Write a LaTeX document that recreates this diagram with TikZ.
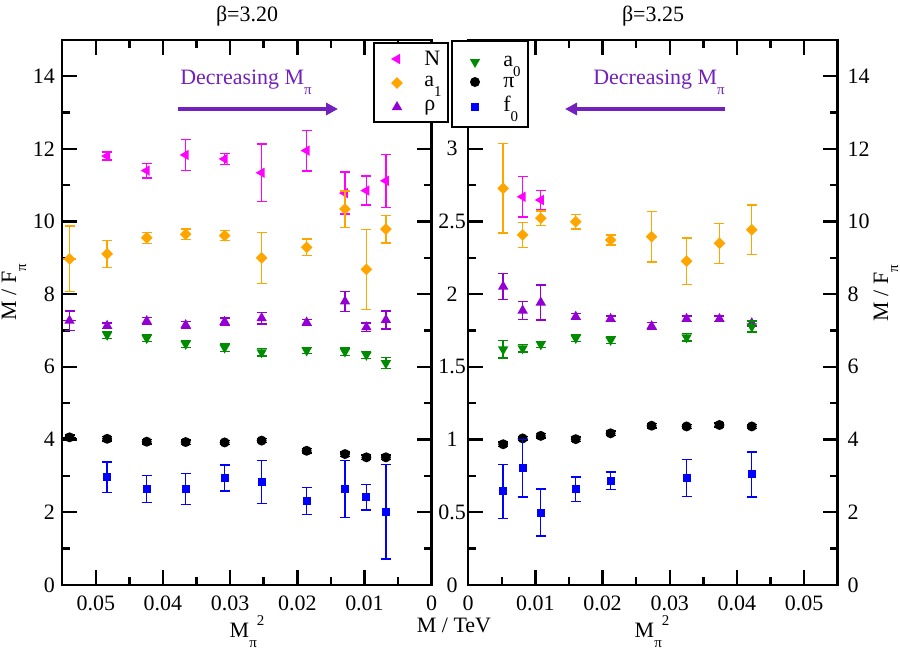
\documentclass[tikz,border=0pt]{standalone}
\usepackage{fontspec}
\setmainfont{Liberation Serif}
\usetikzlibrary{shapes.geometric, arrows.meta}

\definecolor{nuccol}{RGB}{255,0,255}
\definecolor{aonecol}{RGB}{255,165,0}
\definecolor{rhocol}{RGB}{148,0,211}
\definecolor{azerocol}{RGB}{0,139,0}
\definecolor{fzerocol}{RGB}{0,0,255}
\definecolor{deccol}{RGB}{114,33,188}

% grace style indices
\newcommand{\lowidx}[1]{\raisebox{-1ex}{\fontsize{8.5}{9}\selectfont #1}}
\newcommand{\highidx}[1]{\raisebox{1.1ex}{\fontsize{8.5}{9}\selectfont #1}}

% one data point: set, name, x, y, error
\newcommand{\datpt}[5]{%
  \draw[#1 bar] (#3,#4-#5) -- (#3,#4+#5);
  \draw[#1 bar] ([xshift=-0.1cm]#3,#4-#5) -- ([xshift=0.1cm]#3,#4-#5);
  \draw[#1 bar] ([xshift=-0.1cm]#3,#4+#5) -- ([xshift=0.1cm]#3,#4+#5);
  \node[#1 mark] (#2) at (#3,#4) {};}

\begin{document}
\begin{tikzpicture}[x=0.02cm,y=-0.02cm,
    font=\rmfamily\fontsize{12.5}{14}\selectfont,
    frame/.style={line width=1.4pt},
    tick/.style={line width=1.4pt},
    ticklab/.style={inner sep=0pt},
    axttl/.style={anchor=base,inner sep=0pt},
    basemark/.style={draw=none,inner sep=0pt},
    nuc mark/.style={basemark,regular polygon,regular polygon sides=3,shape border rotate=90,fill=nuccol,minimum size=0.24cm},
    aone mark/.style={basemark,diamond,fill=aonecol,minimum size=0.24cm},
    rho mark/.style={basemark,regular polygon,regular polygon sides=3,fill=rhocol,minimum size=0.24cm},
    azero mark/.style={basemark,regular polygon,regular polygon sides=3,shape border rotate=180,fill=azerocol,minimum size=0.24cm},
    pi mark/.style={basemark,circle,fill=black,minimum size=0.2cm},
    fzero mark/.style={basemark,rectangle,fill=fzerocol,minimum size=0.16cm},
    nuc bar/.style={draw=nuccol,line width=0.8pt},
    aone bar/.style={draw=aonecol,line width=0.8pt},
    rho bar/.style={draw=rhocol,line width=0.8pt},
    azero bar/.style={draw=azerocol,line width=0.8pt},
    pi bar/.style={draw=black,line width=0.8pt},
    fzero bar/.style={draw=fzerocol,line width=0.8pt},
    legbox/.style={draw,fill=white,line width=0.6pt},
    legtxt/.style={anchor=base west,inner sep=0pt},
    decarrow/.style={draw=deccol,line width=2.2pt,-{Triangle[length=0.24cm,width=0.24cm]}},
    dectext/.style={text=deccol,anchor=base west,inner sep=0pt}]
\useasboundingbox (0,0) rectangle (900,650);

% beta = 3.20, reversed axis
\begin{scope}[shift={(8.634cm,-11.7cm)},x=-134.4cm,y=0.727cm]
  \draw[frame] (0,0) rectangle (0.055,15);
  \foreach \k in {0,...,5} {
    \draw[tick] (\k/100,0) -- ++(0,0.3cm);
    \draw[tick] (\k/100,15) -- ++(0,-0.3cm);}
  \foreach \k in {1,3,...,9} {
    \draw[tick] (\k/200,0) -- ++(0,0.16cm);
    \draw[tick] (\k/200,15) -- ++(0,-0.16cm);}
  \foreach \v in {0,2,...,14} {
    \draw[tick] (0.055,\v) -- ++(0.3cm,0);
    \draw[tick] (0,\v) -- ++(-0.3cm,0);
    \node[ticklab,anchor=east] (lyt\v) at ([xshift=-0.14cm]0.055,\v) {\v};}
  \foreach \v in {1,3,...,13} {
    \draw[tick] (0.055,\v) -- ++(0.16cm,0);
    \draw[tick] (0,\v) -- ++(-0.16cm,0);}
  \foreach \k/\lab in {0/0,1/0.01,2/0.02,3/0.03,4/0.04,5/0.05}
    \node[ticklab,anchor=north] (lxt\k) at ([yshift=-0.22cm]\k/100,0) {\lab};

  \foreach \x/\y/\e [count=\i] in {0.0483/11.80/0.11,0.0424/11.40/0.2,0.0366/11.83/0.42,
      0.0308/11.72/0.15,0.0253/11.34/0.79,0.0186/11.95/0.56,0.0129/10.78/0.58,
      0.0097/10.85/0.4,0.0068/11.12/0.73}
    {\datpt{nuc}{lN\i}{\x}{\y}{\e}}
  \draw[aone bar] (0.0548,8.97) -- (0.0530,8.97);
  \foreach \x/\y/\e [count=\i] in {0.0539/8.97/0.9,0.0483/9.11/0.37,0.0424/9.55/0.15,
      0.0366/9.65/0.14,0.0308/9.61/0.14,0.0253/9.0/0.7,0.0186/9.29/0.23,
      0.0129/10.34/0.5,0.0097/8.68/1.1,0.0068/9.79/0.38}
    {\datpt{aone}{lA\i}{\x}{\y}{\e}}
  \draw[rho bar] (0.0548,7.27) -- (0.0530,7.27);
  \foreach \x/\y/\e [count=\i] in {0.0539/7.27/0.27,0.0483/7.13/0.08,0.0424/7.26/0.1,
      0.0366/7.15/0.1,0.0308/7.24/0.1,0.0253/7.34/0.16,0.0186/7.22/0.08,
      0.0129/7.80/0.27,0.0097/7.09/0.12,0.0068/7.29/0.25}
    {\datpt{rho}{lR\i}{\x}{\y}{\e}}
  \foreach \x/\y/\e [count=\i] in {0.0483/6.88/0.1,0.0424/6.79/0.1,0.0366/6.63/0.1,
      0.0308/6.53/0.1,0.0253/6.40/0.1,0.0186/6.45/0.08,0.0129/6.42/0.1,
      0.0097/6.33/0.1,0.0068/6.10/0.15}
    {\datpt{azero}{lZ\i}{\x}{\y}{\e}}
  \draw[pi bar] (0.0548,4.06) -- (0.0530,4.06);
  \foreach \x/\y [count=\i] in {0.0539/4.06,0.0483/4.02,0.0424/3.94,0.0366/3.93,
      0.0308/3.92,0.0253/3.97,0.0186/3.69,0.0129/3.60,0.0097/3.51,0.0068/3.51}
    {\datpt{pi}{lP\i}{\x}{\y}{0.06}}
  \foreach \x/\y/\e [count=\i] in {0.0483/2.96/0.42,0.0424/2.64/0.37,0.0366/2.64/0.42,
      0.0308/2.94/0.36,0.0253/2.83/0.59,0.0186/2.31/0.37,0.0129/2.64/0.78,
      0.0097/2.41/0.35,0.0068/2.01/1.3}
    {\datpt{fzero}{lF\i}{\x}{\y}{\e}}
\end{scope}

% beta = 3.25
\begin{scope}[shift={(9.366cm,-11.7cm)},x=134.4cm,y=0.727cm]
  \draw[frame] (0,0) rectangle (0.055,15);
  \foreach \k in {0,...,5} {
    \draw[tick] (\k/100,0) -- ++(0,0.3cm);
    \draw[tick] (\k/100,15) -- ++(0,-0.3cm);}
  \foreach \k in {1,3,...,9} {
    \draw[tick] (\k/200,0) -- ++(0,0.16cm);
    \draw[tick] (\k/200,15) -- ++(0,-0.16cm);}
  \foreach \v in {0,2,...,14} {
    \draw[tick] (0,\v) -- ++(0.3cm,0);
    \draw[tick] (0.055,\v) -- ++(-0.3cm,0);
    \node[ticklab,anchor=west] (ryt\v) at ([xshift=0.19cm]0.055,\v) {\v};}
  \foreach \v in {1,3,...,13} {
    \draw[tick] (0,\v) -- ++(0.16cm,0);
    \draw[tick] (0.055,\v) -- ++(-0.16cm,0);}
  \foreach \v/\lab in {0/0,2/0.5,4/1,6/1.5,8/2,10/2.5,12/3}
    \node[ticklab] (rgev\v) at ([xshift=-0.32cm]0,\v) {\lab};
  \foreach \k/\lab in {0/0,1/0.01,2/0.02,3/0.03,4/0.04,5/0.05}
    \node[ticklab,anchor=north] (rxt\k) at ([yshift=-0.22cm]\k/100,0) {\lab};

  \foreach \x/\y/\e [count=\i] in {0.0081/10.68/0.56,0.0108/10.59/0.26}
    {\datpt{nuc}{rN\i}{\x}{\y}{\e}}
  \foreach \x/\y/\e [count=\i] in {0.0052/10.91/1.23,0.0081/9.63/0.34,0.0108/10.09/0.2,
      0.0160/9.99/0.2,0.0212/9.49/0.14,0.0273/9.58/0.7,0.0325/8.91/0.64,
      0.0374/9.40/0.55,0.0422/9.77/0.68}
    {\datpt{aone}{rA\i}{\x}{\y}{\e}}
  \foreach \x/\y/\e [count=\i] in {0.0052/8.21/0.36,0.0081/7.55/0.25,0.0108/7.77/0.48,
      0.0160/7.38/0.08,0.0212/7.32/0.08,0.0273/7.12/0.1,0.0325/7.32/0.08,
      0.0374/7.32/0.08,0.0422/7.20/0.08}
    {\datpt{rho}{rR\i}{\x}{\y}{\e}}
  \foreach \x/\y/\e [count=\i] in {0.0052/6.48/0.24,0.0081/6.51/0.1,0.0108/6.62/0.08,
      0.0160/6.79/0.1,0.0212/6.74/0.1,0.0325/6.81/0.1,0.0422/7.11/0.15}
    {\datpt{azero}{rZ\i}{\x}{\y}{\e}}
  \foreach \x/\y [count=\i] in {0.0052/3.87,0.0081/4.03,0.0108/4.10,0.0160/4.01,
      0.0212/4.17,0.0273/4.38,0.0325/4.36,0.0374/4.40,0.0422/4.36}
    {\datpt{pi}{rP\i}{\x}{\y}{0.06}}
  \foreach \x/\y/\e [count=\i] in {0.0052/2.57/0.74,0.0081/3.21/0.79,0.0108/1.99/0.65,
      0.0160/2.63/0.34,0.0212/2.87/0.24,0.0325/2.94/0.51,0.0422/3.04/0.62}
    {\datpt{fzero}{rF\i}{\x}{\y}{\e}}
\end{scope}

% titles and axis labels
\node[axttl] (ttlL) at (247,21) {β=3.20};
\node[axttl] (ttlR) at (653,21) {β=3.25};
\node[axttl] (xttlL) at (247,637) {M\lowidx{π}\highidx{2}};
\node[axttl] (xttlR) at (652,637) {M\lowidx{π}\highidx{2}};
\node[axttl] (tev) at (454,632) {M / TeV};
\node[axttl,rotate=90] (yttlL) at (16,292) {M / F\lowidx{π}};
\node[axttl,rotate=90] (yttlR) at (888,293) {M / F\lowidx{π}};

% decreasing pion mass
\node[dectext] (decL) at (180,84) {Decreasing M\lowidx{π}};
\node[dectext] (decR) at (593,84) {Decreasing M\lowidx{π}};
\coordinate (arrLa) at (178,109);
\coordinate (arrLb) at (338,109);
\coordinate (arrRa) at (725,109);
\coordinate (arrRb) at (565,109);
\draw[decarrow] (arrLa) -- (arrLb);
\draw[decarrow] (arrRa) -- (arrRb);

% legends
\draw[legbox] (374,43) rectangle (448,122);
\node[nuc mark] (legN) at (397,59) {};
\node[aone mark] (legA) at (397,83) {};
\node[rho mark] (legR) at (397,107) {};
\node[legtxt] (legNt) at (424,65) {N};
\node[legtxt] (legAt) at (424,86) {a\lowidx{1}};
\node[legtxt] (legRt) at (424,110) {ρ};
\draw[legbox] (452,41) rectangle (528,127);
\node[azero mark] (legZ) at (475,62) {};
\node[pi mark] (legP) at (475,82) {};
\node[fzero mark] (legF) at (475,107) {};
\node[legtxt] (legZt) at (503,66) {a\lowidx{0}};
\node[legtxt] (legPt) at (503,87) {π};
\node[legtxt] (legFt) at (503,111) {f\lowidx{0}};
\end{tikzpicture}
\end{document}
